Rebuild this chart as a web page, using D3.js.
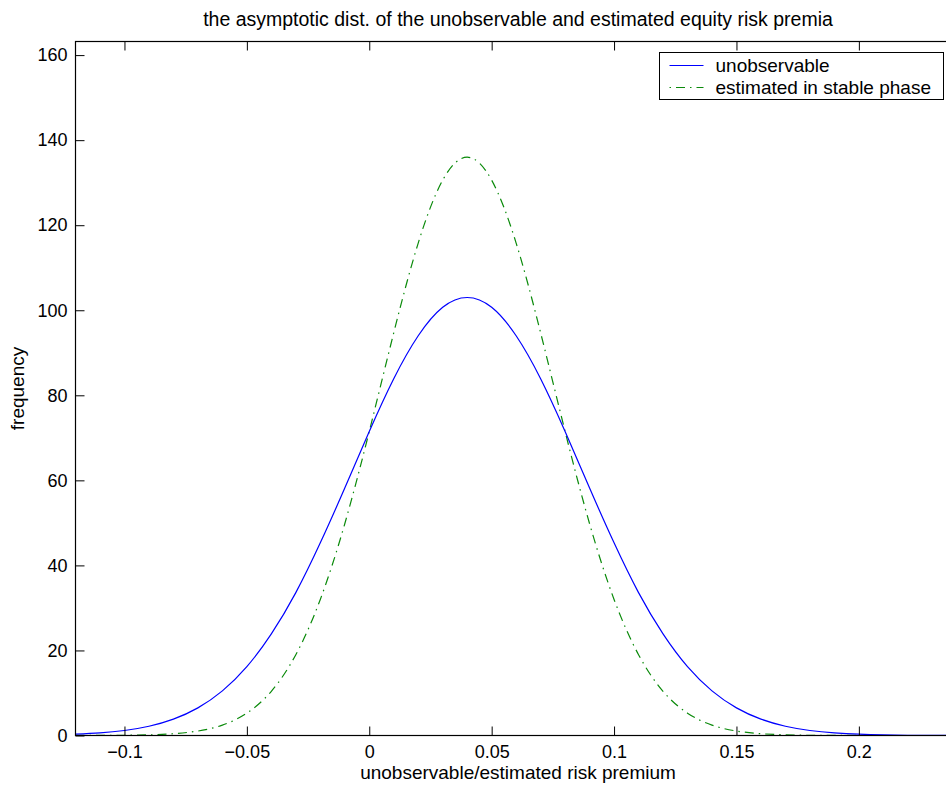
<!DOCTYPE html>
<html>
<head>
<meta charset="utf-8">
<script src="https://cdn.jsdelivr.net/npm/d3@7"></script>
<style>
  body { margin: 0; background: #fff; }
  text { font-family: "Liberation Sans", Arial, Helvetica, sans-serif; fill: #000; }
</style>
</head>
<body>
<div id="chart"></div>
<script>
// ---------------------------------------------------------------
// Data
// ---------------------------------------------------------------
var premium = [-0.12, -0.11, -0.10, -0.09, -0.08, -0.07, -0.06, -0.05, -0.04, -0.03,
    -0.02, -0.01, 0.00, 0.01, 0.02, 0.03, 0.04, 0.05, 0.06, 0.07, 0.08, 0.09, 0.10,
    0.11, 0.12, 0.13, 0.14, 0.15, 0.16, 0.17, 0.18, 0.19, 0.20, 0.21, 0.22, 0.23, 0.24];

var unobservable = [0.30, 0.61, 1.17, 2.17, 3.85, 6.50, 10.5, 16.2, 23.9, 33.6,
    45.3, 58.2, 71.5, 83.9, 94.0, 100.7, 103.0, 100.7, 94.0, 83.9, 71.5, 58.2, 45.3,
    33.6, 23.9, 16.2, 10.5, 6.50, 3.85, 2.17, 1.17, 0.61, 0.30, 0.14, 0.06, 0.03, 0.01];

var estimated = [0.01, 0.02, 0.05, 0.15, 0.42, 1.05, 2.44, 5.25, 10.4, 19.0,
    32.0, 49.8, 71.5, 94.7, 115.8, 130.6, 136.0, 130.6, 115.8, 94.7, 71.5, 49.8, 32.0,
    19.0, 10.4, 5.25, 2.44, 1.05, 0.42, 0.15, 0.05, 0.02, 0.01, 0, 0, 0, 0];

var xTicks = [-0.1, -0.05, 0, 0.05, 0.1, 0.15, 0.2];
var yTicks = [0, 20, 40, 60, 80, 100, 120, 140, 160];
var seriesNames = ["unobservable", "estimated in stable phase"];

// ---------------------------------------------------------------
// Dimensions (axes run a little past the right edge of the picture)
// ---------------------------------------------------------------
var svgWidth = 946;
var svgHeight = 785;
var margin = { top: 41.5, left: 75.5 };
var chartWidth = 885;
var chartHeight = 694;

var svg = d3.select("#chart").append("svg")
    .attr("width", svgWidth)
    .attr("height", svgHeight);

var chartGroup = svg.append("g")
    .attr("transform", `translate(${margin.left}, ${margin.top})`);

// ---------------------------------------------------------------
// Scales
// ---------------------------------------------------------------
var xScale = d3.scaleLinear()
    .domain([-0.12, -0.12 + chartWidth / 2448])
    .range([0, chartWidth]);

var yScale = d3.scaleLinear()
    .domain([0, 163.2])
    .range([chartHeight, 0]);

var fmt = function (d) { return d < 0 ? "\u2212" + (-d) : String(d); };

// ---------------------------------------------------------------
// Curves
// ---------------------------------------------------------------
svg.append("defs").append("clipPath").attr("id", "plotClip")
    .append("rect").attr("width", chartWidth).attr("height", chartHeight);

var line = function (values) {
    return d3.line()
        .x(function (d, i) { return xScale(premium[i]); })
        .y(function (d) { return yScale(d); })
        .curve(d3.curveNatural)(values);
};

var plot = chartGroup.append("g").attr("clip-path", "url(#plotClip)");

plot.append("path")
    .attr("d", line(estimated))
    .attr("fill", "none")
    .attr("stroke", "#0a8a0a")
    .attr("stroke-width", 1.2)
    .attr("stroke-dasharray", "9,5,1.5,5");

plot.append("path")
    .attr("d", line(unobservable))
    .attr("fill", "none")
    .attr("stroke", "#0000ff")
    .attr("stroke-width", 1.2);

// ---------------------------------------------------------------
// Axes: MATLAB style box with inward ticks
// ---------------------------------------------------------------
var tickLen = 9;

chartGroup.append("g")
    .attr("transform", `translate(0, ${chartHeight})`)
    .call(d3.axisBottom(xScale).tickValues(xTicks).tickFormat(fmt)
        .tickSizeInner(-tickLen).tickSizeOuter(0).tickPadding(10))
    .call(function (g) {
        g.select(".domain").remove();
        g.selectAll("text").attr("font-size", 18).attr("font-family", "Liberation Sans, Arial, sans-serif");
    });

chartGroup.append("g")
    .call(d3.axisTop(xScale).tickValues(xTicks).tickFormat("")
        .tickSizeInner(-tickLen).tickSizeOuter(0))
    .call(function (g) { g.select(".domain").remove(); });

chartGroup.append("g")
    .call(d3.axisLeft(yScale).tickValues(yTicks)
        .tickSizeInner(-tickLen).tickSizeOuter(0).tickPadding(8))
    .call(function (g) {
        g.select(".domain").remove();
        g.selectAll("text").attr("font-size", 18).attr("font-family", "Liberation Sans, Arial, sans-serif");
    });

chartGroup.append("g")
    .attr("transform", `translate(${chartWidth}, 0)`)
    .call(d3.axisRight(yScale).tickValues(yTicks).tickFormat("")
        .tickSizeInner(-tickLen).tickSizeOuter(0))
    .call(function (g) { g.select(".domain").remove(); });

chartGroup.append("rect")
    .attr("width", chartWidth)
    .attr("height", chartHeight)
    .attr("fill", "none")
    .attr("stroke", "#000")
    .attr("stroke-width", 1.2);

// ---------------------------------------------------------------
// Title and axis labels
// ---------------------------------------------------------------
svg.append("text")
    .attr("x", margin.left + chartWidth / 2)
    .attr("y", 26)
    .attr("text-anchor", "middle")
    .attr("font-size", 19.5)
    .text("the asymptotic dist. of the unobservable and estimated equity risk premia");

svg.append("text")
    .attr("x", margin.left + chartWidth / 2)
    .attr("y", 779)
    .attr("text-anchor", "middle")
    .attr("font-size", 19)
    .text("unobservable/estimated risk premium");

svg.append("text")
    .attr("transform", `translate(24, ${margin.top + chartHeight / 2}) rotate(-90)`)
    .attr("text-anchor", "middle")
    .attr("font-size", 19)
    .text("frequency");

// ---------------------------------------------------------------
// Legend
// ---------------------------------------------------------------
var legend = svg.append("g").attr("transform", "translate(659.5, 52.5)");

legend.append("rect")
    .attr("width", 284)
    .attr("height", 47)
    .attr("fill", "#fff")
    .attr("stroke", "#000")
    .attr("stroke-width", 1);

var legendStyles = [
    { color: "#0000ff", dash: null },
    { color: "#0a8a0a", dash: "1.5,5,9,5" }
];

seriesNames.forEach(function (name, i) {
    var yRow = 13 + i * 22;
    legend.append("line")
        .attr("x1", 10).attr("x2", 44)
        .attr("y1", yRow).attr("y2", yRow)
        .attr("stroke", legendStyles[i].color)
        .attr("stroke-width", 1.2)
        .attr("stroke-dasharray", legendStyles[i].dash);
    legend.append("text")
        .attr("x", 56)
        .attr("y", yRow + 6.5)
        .attr("font-size", 19)
        .text(name);
});
</script>
</body>
</html>
